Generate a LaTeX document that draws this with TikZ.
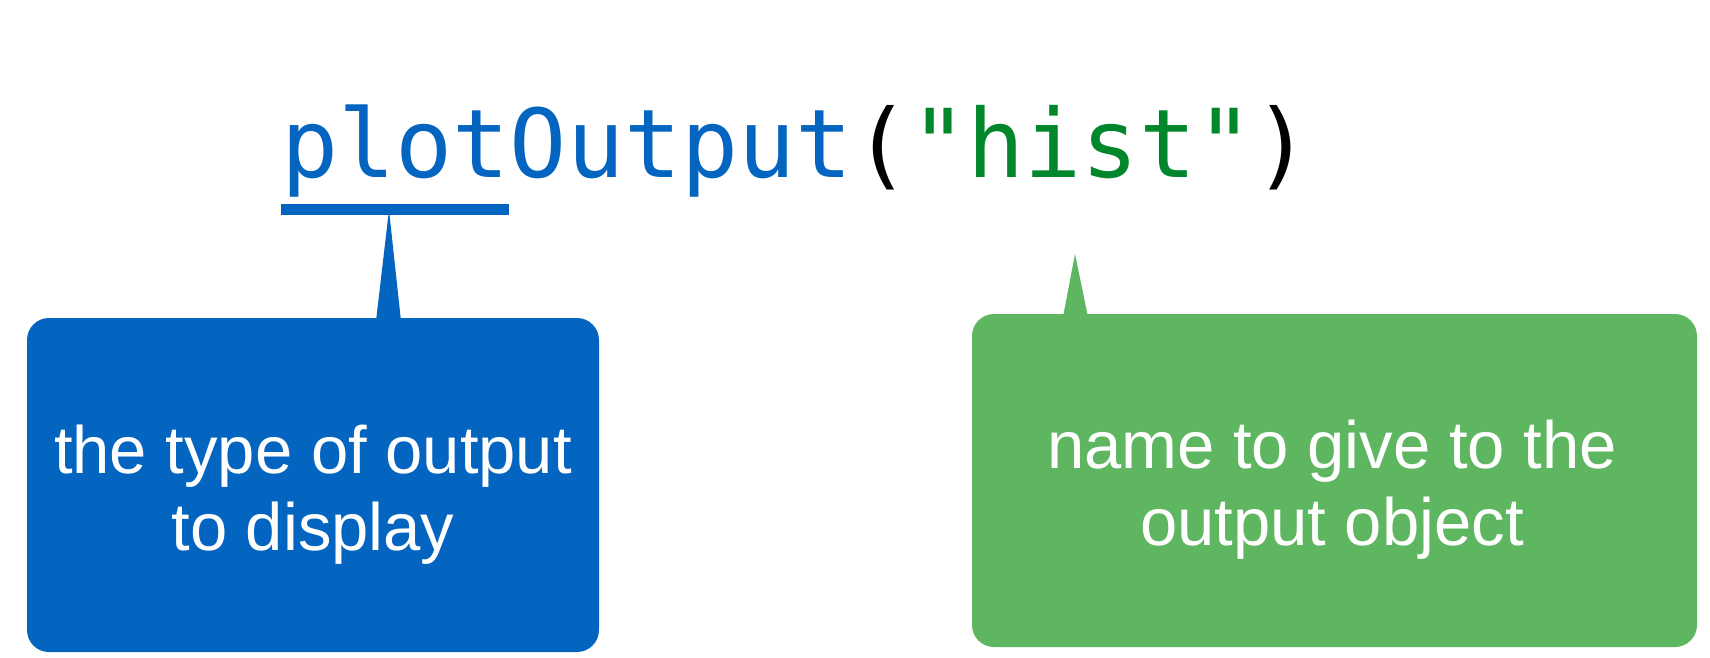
\documentclass[tikz,border=0pt]{standalone}
\usepackage{fontspec}
\setmainfont{Liberation Sans}
\setmonofont{DejaVu Sans Mono}
\definecolor{rblue}{RGB}{3,101,192}
\definecolor{rgreen}{RGB}{94,183,96}
\definecolor{cgreen}{RGB}{0,134,43}
\begin{document}
\begin{tikzpicture}[x=1pt,y=-1pt,
  box/.style={rounded corners=22pt, inner sep=0pt, draw=none},
  btext/.style={anchor=base, inner sep=0pt, text=white, font=\fontsize{67}{77}\selectfont},
  codestyle/.style={anchor=base west, inner sep=0pt, font=\ttfamily\fontsize{95}{95}\selectfont}]
\useasboundingbox (0,0) rectangle (1710,658);
\fill[white] (0,0) rectangle (1710,658);
% code line
\node[codestyle] (code) at (281,177) {\textcolor{rblue}{plotOutput}(\textcolor{cgreen}{"hist"})};
\node[fill=rblue, inner sep=0pt, minimum width=228pt, minimum height=11pt] (ubar) at (395,209.5) {};
% boxes
\node[box, fill=rblue, minimum width=572pt, minimum height=334pt] (bbox) at (313,485) {};
\node[box, fill=rgreen, minimum width=725pt, minimum height=333pt] (gbox) at (1334.5,480.5) {};
% tails
\coordinate (btip) at (389,210);
\coordinate (gtip) at (1075,254);
\fill[rblue] (btip) -- (376,321) -- (401,321) -- cycle;
\fill[rgreen] (gtip) -- (1063,317) -- (1088,317) -- cycle;
% texts
\node[btext] (b1) at (313,473) {the type of output};
\node[btext] (b2) at (313,550) {to display};
\node[btext] (g1) at (1332,468) {name to give to the};
\node[btext] (g2) at (1332,545) {output object};
\end{tikzpicture}
\end{document}
